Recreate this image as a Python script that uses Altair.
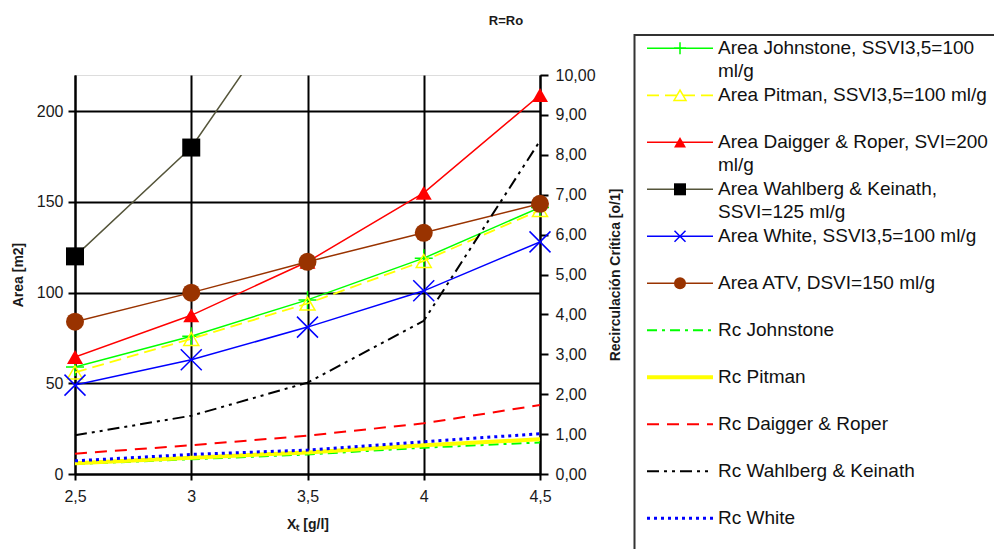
import altair as alt
import pandas as pd

FONT = "Liberation Sans"
LBL = "#1a1a1a"

# ---------------- data ----------------
chart_title = "R=Ro"
x_values = [2.5, 3, 3.5, 4, 4.5]

area_series = ["Area Johnstone", "Area Pitman", "Area Daigger & Roper",
               "Area Wahlberg & Keinath", "Area White", "Area ATV"]
area_johnstone = [59, 76, 96, 119, 147]
area_pitman = [56, 74.5, 94, 117.5, 145.5]
area_daigger = [64.5, 87.5, 117, 155, 209]
area_wahlberg = [120, 180, 273, None, None]
area_white = [49, 63, 81, 101, 128]
area_atv = [84, 100, 117, 133, 149]
area_values = [area_johnstone, area_pitman, area_daigger, area_wahlberg, area_white, area_atv]

rc_series = ["Rc Johnstone", "Rc Pitman", "Rc Daigger & Roper",
             "Rc Wahlberg & Keinath", "Rc White"]
rc_johnstone = [0.25, 0.37, 0.49, 0.66, 0.79]
rc_pitman = [0.27, 0.41, 0.54, 0.72, 0.87]
rc_daigger = [0.51, 0.72, 0.96, 1.27, 1.73]
rc_wahlberg = [0.97, 1.46, 2.29, 3.84, 8.35]
rc_white = [0.33, 0.49, 0.60, 0.81, 1.01]
rc_values = [rc_johnstone, rc_pitman, rc_daigger, rc_wahlberg, rc_white]

legend_labels = [
    ["Area Johnstone, SSVI3,5=100", "ml/g"],
    ["Area Pitman, SSVI3,5=100 ml/g"],
    ["Area Daigger & Roper, SVI=200", "ml/g"],
    ["Area Wahlberg & Keinath,", "SSVI=125 ml/g"],
    ["Area White, SSVI3,5=100 ml/g"],
    ["Area ATV, DSVI=150 ml/g"],
    ["Rc Johnstone"],
    ["Rc Pitman"],
    ["Rc Daigger & Roper"],
    ["Rc Wahlberg & Keinath"],
    ["Rc White"],
]

left_ticks = [0, 50, 100, 150, 200]
right_ticks = [0, 1, 2, 3, 4, 5, 6, 7, 8, 9, 10]

# ---------------- styles ----------------
PLUS = "M-1,0L1,0M0,-1L0,1"
XMARK = "M-1,-1L1,1M-1,1L1,-1"

area_style = {
    "Area Johnstone": dict(color="#00FF00", width=1.5, shape=PLUS, filled=False, size=324, lsize=144, mw=1.5),
    "Area Pitman": dict(color="#FFFF00", width=1.8, dash=[12, 6], shape="triangle-up", filled=False, size=225, lsize=144, mw=1.5),
    "Area Daigger & Roper": dict(color="#FF0000", width=1.5, shape="triangle-up", filled=True, size=256, lsize=144),
    "Area Wahlberg & Keinath": dict(color="#55553A", mcolor="#000000", width=1.5, shape="square", filled=True, size=324, lsize=144),
    "Area White": dict(color="#0000FF", width=1.5, shape=XMARK, filled=False, size=441, lsize=121, mw=1.5),
    "Area ATV": dict(color="#993300", width=1.5, shape="circle", filled=True, size=324, lsize=144),
}
rc_style = {
    "Rc Johnstone": dict(color="#00FF00", width=2, dash=[10, 5, 3, 5]),
    "Rc Pitman": dict(color="#FFFF00", width=4),
    "Rc Daigger & Roper": dict(color="#FF0000", width=2, dash=[12, 8]),
    "Rc Wahlberg & Keinath": dict(color="#000000", width=2, dash=[12, 5, 3, 5, 3, 5]),
    "Rc White": dict(color="#0000FF", width=3, dash=[3, 4]),
}

# ---------------- scales / axes ----------------
xs = alt.Scale(domain=[2.5, 4.5], nice=False, zero=False)
ya = alt.Scale(domain=[0, 220], nice=False, zero=True)
yr = alt.Scale(domain=[0, 10], nice=False, zero=True)

common_axis = dict(domainColor="black", domainWidth=2, tickColor="black", tickWidth=2,
                   labelFont=FONT, labelFontSize=16, labelColor=LBL, labelOverlap=False,
                   titleFont=FONT, titleFontSize=14, titleFontWeight="bold", titleColor=LBL, zindex=0)

x_axis = alt.Axis(orient="bottom", values=x_values,
                  labelExpr="replace(format(datum.value, '~g'), '.', ',')",
                  grid=True, gridColor="black", gridWidth=2, gridOpacity=1,
                  tickSize=6, labelPadding=8, labelFlush=False,
                  title="Xₜ [g/l]", titlePadding=13, **common_axis)
ya_axis = alt.Axis(orient="left", values=left_ticks, grid=True, gridColor="black",
                   gridWidth=2, gridOpacity=1, tickSize=7, labelPadding=5,
                   title="Area [m2]", titlePadding=11, **common_axis)
yr_axis = alt.Axis(orient="right", values=right_ticks, grid=False,
                   labelExpr="replace(format(datum.value, '.2f'), '.', ',')",
                   tickSize=8, labelPadding=7, title="Recirculación Crítica [o/1]",
                   titleAngle=270, titleBaseline="top", titlePadding=13, **common_axis)


def line_kwargs(st, clip):
    kw = dict(color=st["color"], strokeWidth=st["width"], clip=clip)
    if st.get("dash"):
        kw["strokeDash"] = st["dash"]
    return kw


def point_kwargs(st, size):
    col = st.get("mcolor", st["color"])
    kw = dict(shape=st["shape"], size=size, filled=st["filled"], color=col, opacity=1)
    if not st["filled"]:
        kw["strokeWidth"] = st.get("mw", 1.5)
    return kw


# ---------------- area (left axis) ----------------
area_layers = []
for name, vals in zip(area_series, area_values):
    st = area_style[name]
    df = pd.DataFrame({"x": x_values, "y": vals}).dropna()
    enc = dict(x=alt.X("x:Q", scale=xs, axis=x_axis),
               y=alt.Y("y:Q", scale=ya, axis=ya_axis))
    area_layers.append(alt.Chart(df).mark_line(**line_kwargs(st, True)).encode(**enc))
    area_layers.append(alt.Chart(df).mark_point(**point_kwargs(st, st["size"])).encode(**enc))
area_chart = alt.layer(*area_layers)

# ---------------- Rc (right axis) ----------------
rc_layers = []
for name, vals in zip(rc_series, rc_values):
    st = rc_style[name]
    df = pd.DataFrame({"x": x_values, "y": vals})
    enc = dict(x=alt.X("x:Q", scale=xs, axis=None),
               y=alt.Y("y:Q", scale=yr, axis=yr_axis))
    rc_layers.append(alt.Chart(df).mark_line(**line_kwargs(st, False)).encode(**enc))
rc_chart = alt.layer(*rc_layers)

# ---------------- legend + title (drawn with pixel-unit scales) ----------------
W, H = 465, 399
lxs = alt.Scale(domain=[0, W], nice=False, zero=False)
lys = alt.Scale(domain=[0, H], nice=False, zero=False, reverse=True)
ROW0, ROWSTEP, LINE2 = -26.7, 47.0, 23.0
SEG0, SEG1, MARK_X, TEXT_X = 572, 638, 605, 643

leg_layers = []
box = pd.DataFrame({"x0": [559.5], "x1": [1000], "y0": [-40], "y1": [600]})
leg_layers.append(alt.Chart(box).mark_rect(fillOpacity=0, stroke="#333333", strokeWidth=2).encode(
    x=alt.X("x0:Q", scale=lxs, axis=None), x2="x1",
    y=alt.Y("y0:Q", scale=lys, axis=None), y2="y1"))

all_names = area_series + rc_series
for i, name in enumerate(all_names):
    st = area_style.get(name, rc_style.get(name))
    ry = ROW0 + ROWSTEP * i
    seg = pd.DataFrame({"x0": [SEG0], "x1": [SEG1], "y": [ry]})
    kw = line_kwargs(st, False)
    kw.pop("clip")
    leg_layers.append(alt.Chart(seg).mark_rule(**kw).encode(
        x=alt.X("x0:Q", scale=lxs, axis=None), x2="x1",
        y=alt.Y("y:Q", scale=lys, axis=None)))
    if name in area_style:
        pt = pd.DataFrame({"x": [MARK_X], "y": [ry]})
        leg_layers.append(alt.Chart(pt).mark_point(**point_kwargs(st, st["lsize"])).encode(
            x=alt.X("x:Q", scale=lxs, axis=None),
            y=alt.Y("y:Q", scale=lys, axis=None)))

rows = []
for i, lines in enumerate(legend_labels):
    for j, t in enumerate(lines):
        rows.append({"x": TEXT_X, "y": ROW0 + ROWSTEP * i + LINE2 * j, "t": t})
txt = pd.DataFrame(rows)
leg_layers.append(alt.Chart(txt).mark_text(align="left", baseline="middle", font=FONT,
                                           fontSize=19, color="#111111").encode(
    x=alt.X("x:Q", scale=lxs, axis=None),
    y=alt.Y("y:Q", scale=lys, axis=None),
    text="t:N"))

title_df = pd.DataFrame({"x": [431], "y": [-54], "t": [chart_title]})
leg_layers.append(alt.Chart(title_df).mark_text(align="center", baseline="middle", font=FONT,
                                                fontSize=13, fontWeight="bold", color=LBL).encode(
    x=alt.X("x:Q", scale=lxs, axis=None),
    y=alt.Y("y:Q", scale=lys, axis=None),
    text="t:N"))
legend_chart = alt.layer(*leg_layers)

chart = alt.layer(area_chart, rc_chart, legend_chart).resolve_scale(
    x="independent", y="independent"
).properties(
    width=W, height=H,
    autosize=alt.AutoSizeParams(type="none"),
    padding={"left": 75, "top": 75, "right": 994 - 75 - W, "bottom": 549 - 75 - H},
).configure_view(stroke=None).configure(font=FONT, background="white")

chart.save("out.html", embed_options={"renderer": "svg", "actions": False})
